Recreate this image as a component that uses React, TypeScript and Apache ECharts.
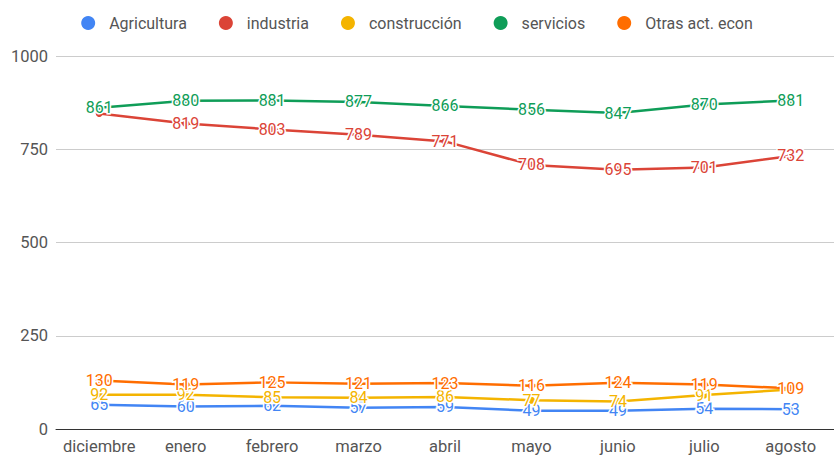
import React, { useEffect, useRef } from "react";
import * as echarts from "echarts";

const categories = ["diciembre", "enero", "febrero", "marzo", "abril", "mayo", "junio", "julio", "agosto"];
const agricultura = [65, 60, 62, 57, 59, 49, 49, 54, 53];
const industria = [846, 819, 803, 789, 771, 708, 695, 701, 732];
const construccion = [92, 92, 85, 84, 86, 77, 74, 91, 106];
const servicios = [861, 880, 881, 877, 866, 856, 847, 870, 881];
const otras = [130, 119, 125, 121, 123, 116, 124, 119, 109];
const yTicks = [0, 250, 500, 750, 1000];

const names = ["Agricultura", "industria", "construcción", "servicios", "Otras act. econ"];
const colors = ["#4285F4", "#DB4437", "#F4B400", "#0F9D58", "#FF6D00"];
const hidden: Record<string, number[]> = { industria: [0], "construcción": [8] };

export default function App() {
  const ref = useRef<HTMLDivElement>(null);
  useEffect(() => {
    if (!ref.current) return;
    const chart = echarts.init(ref.current, null, { renderer: "svg" });
    const all = [agricultura, industria, construccion, servicios, otras];
    const series = all.map((vals, i) => ({
      name: names[i],
      type: "line",
      data: vals.map((v, j) =>
        (hidden[names[i]] || []).includes(j) ? { value: v, label: { show: false } } : v
      ),
      color: colors[i],
      symbol: "circle",
      symbolSize: 7,
      lineStyle: { width: 2.5, color: colors[i] },
      itemStyle: { color: colors[i] },
      label: {
        show: true,
        position: "inside",
        color: colors[i],
        fontFamily: "Roboto",
        fontSize: 16,
        textBorderColor: "#fff",
        textBorderWidth: 3,
      },
      z: 2 + i,
    }));
    chart.setOption({
      animation: false,
      textStyle: { fontFamily: "Roboto" },
      legend: {
        top: 10,
        left: "center",
        icon: "circle",
        itemWidth: 14,
        itemHeight: 14,
        itemGap: 32,
        data: names,
        textStyle: { fontFamily: "Roboto", fontSize: 16, color: "#555", padding: [0, 0, 0, 9] },
      },
      grid: { left: 56, right: 0, top: 56, bottom: 29 },
      xAxis: {
        type: "category",
        data: categories,
        axisTick: { show: false },
        axisLine: { show: true, lineStyle: { color: "#333", width: 1 } },
        axisLabel: { color: "#555", fontSize: 16.5, fontFamily: "Roboto", margin: 9, interval: 0 },
      },
      yAxis: {
        type: "value",
        min: yTicks[0],
        max: yTicks[yTicks.length - 1],
        interval: 250,
        axisLine: { show: false },
        axisTick: { show: false },
        splitLine: { lineStyle: { color: "#ccc" } },
        axisLabel: {
          color: "#555",
          fontSize: 16.5,
          fontFamily: "Roboto",
          margin: 8,
          formatter: (v: number) => String(v),
        },
      },
      series,
    });
    return () => chart.dispose();
  }, []);
  return <div ref={ref} style={{ width: 834, height: 458, position: "absolute", left: 0, top: 0 }} />;
}
